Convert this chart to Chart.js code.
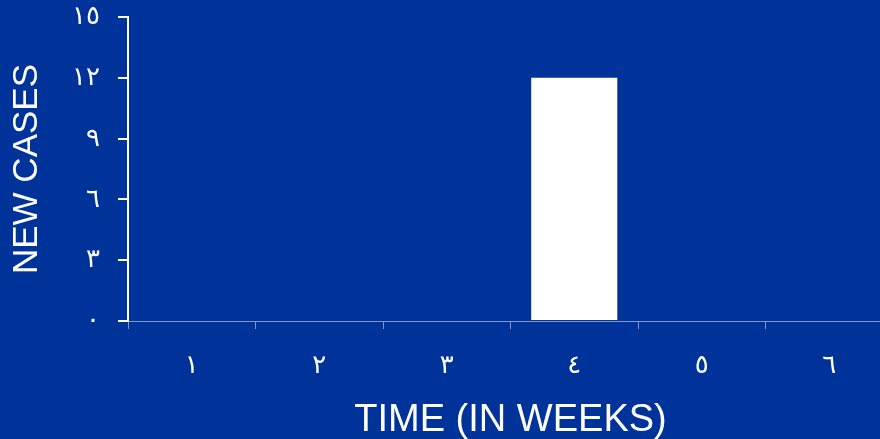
<!DOCTYPE html>
<html>
<head>
<meta charset="utf-8">
<title>New cases by week</title>
<script src="https://cdn.jsdelivr.net/npm/chart.js@4/dist/chart.umd.min.js"></script>
<style>
    html, body { margin: 0; padding: 0; background: #003399; overflow: hidden; }
    .chart-wrap { position: relative; width: 900px; height: 439px; }
</style>
</head>
<body>
<div class="chart-wrap"><canvas id="casesChart"></canvas></div>
<script>
// Weeks on the x axis, in Arabic-Indic digits
const weekLabels = ['١', '٢', '٣', '٤', '٥', '٦'];
// New cases per week
const newCases = [0, 0, 0, 12, 0, 0];
// Y axis tick values and their labels
const yTickValues = [0, 3, 6, 9, 12, 15];
const yTickLabels = ['٠', '٣', '٦', '٩', '١٢', '١٥'];

const fontFamily = "'Liberation Sans', Arial, 'DejaVu Sans', sans-serif";
const axisBlue = '#8095cc';

document.addEventListener('DOMContentLoaded', function() {
    const ctx = document.getElementById('casesChart');
    new Chart(ctx, {
        type: 'bar',
        data: {
            labels: weekLabels,
            datasets: [{
                label: 'New cases',
                data: newCases,
                backgroundColor: '#ffffff',
                borderWidth: 0,
                barPercentage: 0.675,
                categoryPercentage: 1.0
            }]
        },
        options: {
            responsive: true,
            maintainAspectRatio: false,
            animation: false,
            layout: { padding: { top: 0, right: 7, left: 0, bottom: 0 } },
            scales: {
                x: {
                    afterFit: function(scale) { scale.height = 118; },
                    border: { color: axisBlue, width: 1 },
                    grid: {
                        drawOnChartArea: false,
                        drawTicks: true,
                        tickLength: 8,
                        color: axisBlue,
                        lineWidth: 1
                    },
                    ticks: {
                        color: '#ffffff',
                        padding: 21,
                        font: { family: fontFamily, size: 26 }
                    },
                    title: {
                        display: true,
                        text: 'TIME (IN WEEKS)',
                        color: '#ffffff',
                        font: { family: fontFamily, size: 38 },
                        padding: { top: 0, bottom: -4 }
                    }
                },
                y: {
                    min: 0,
                    max: 15,
                    afterFit: function(scale) {
                        scale.width = 128;
                        // keep the plot top at a fixed distance from the canvas edge
                        scale.paddingTop = 17;
                        scale.paddingBottom = 0;
                    },
                    afterBuildTicks: function(scale) {
                        scale.ticks = yTickValues.map(function(v) { return { value: v }; });
                    },
                    border: { color: '#ffffff', width: 2 },
                    grid: {
                        drawOnChartArea: false,
                        drawTicks: true,
                        tickLength: 10,
                        color: '#ffffff',
                        lineWidth: 2
                    },
                    ticks: {
                        color: '#ffffff',
                        padding: 18,
                        font: { family: fontFamily, size: 26 },
                        callback: function(value) {
                            const i = yTickValues.indexOf(value);
                            return i >= 0 ? yTickLabels[i] : '';
                        }
                    },
                    title: {
                        display: true,
                        text: 'NEW CASES',
                        color: '#ffffff',
                        font: { family: fontFamily, size: 35 },
                        padding: { top: 6, bottom: 0 }
                    }
                }
            },
            plugins: {
                legend: { display: false },
                tooltip: { enabled: false }
            }
        }
    });
});
</script>
</body>
</html>
